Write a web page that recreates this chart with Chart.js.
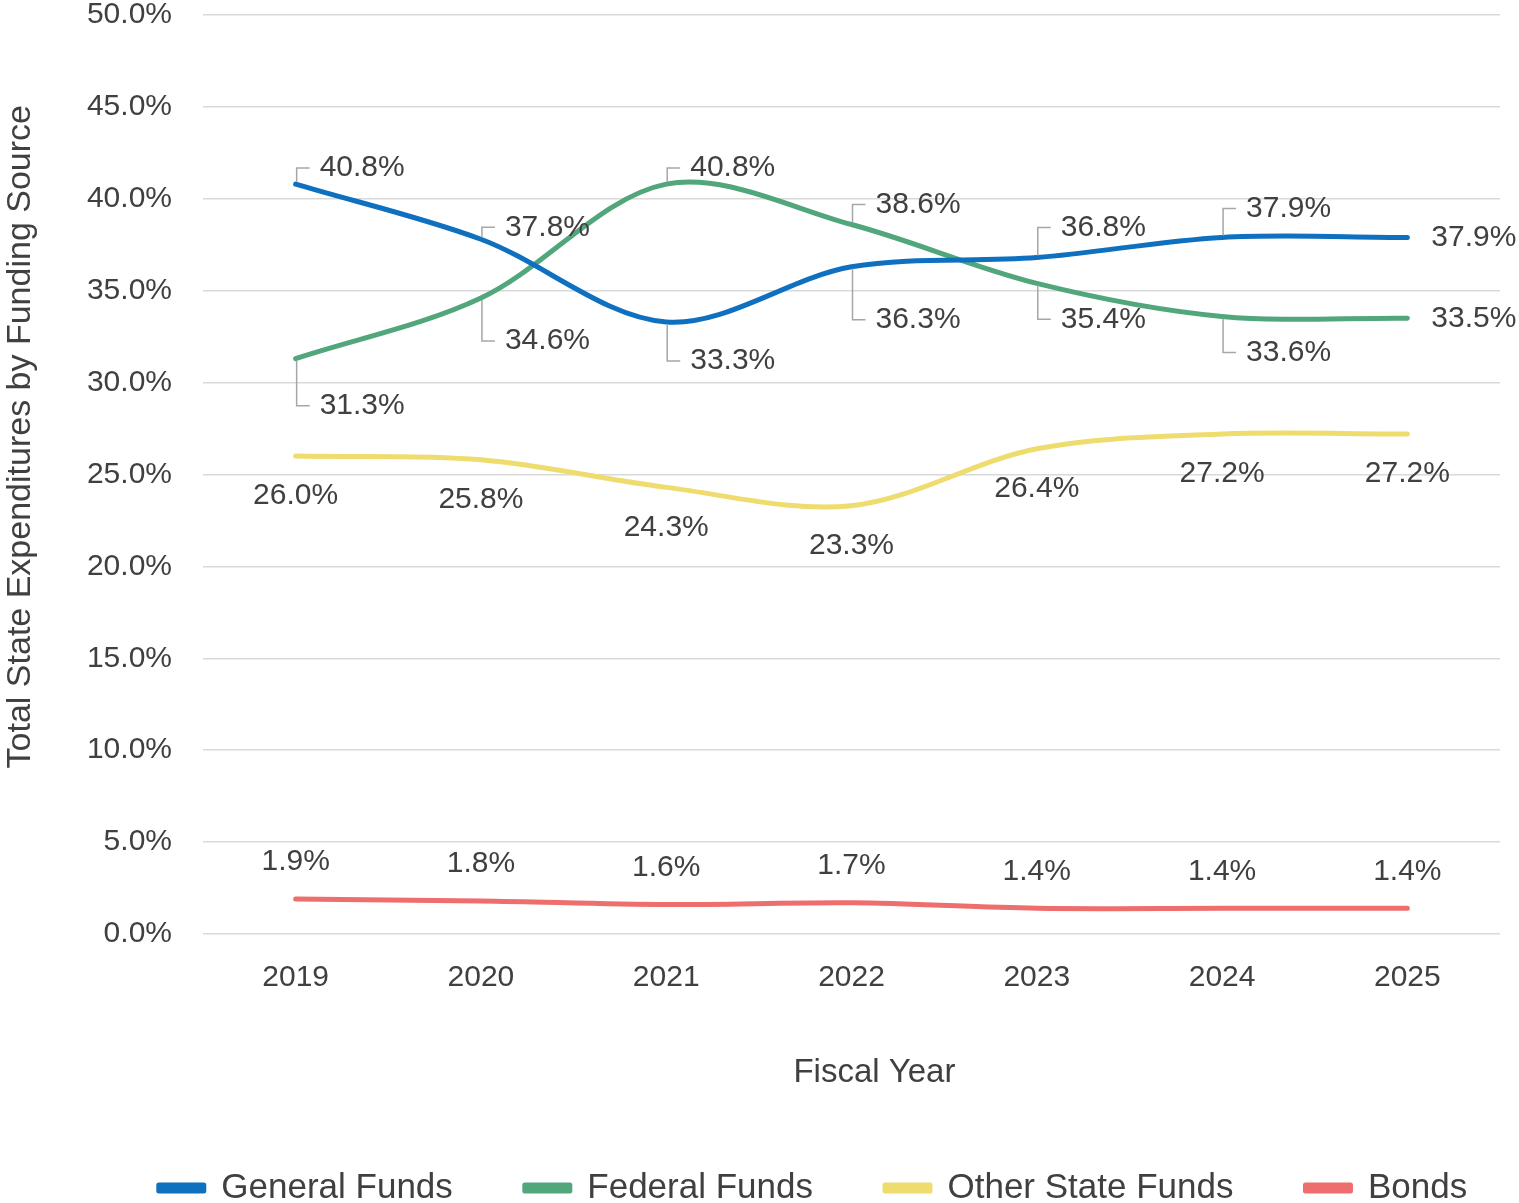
<!DOCTYPE html>
<html>
<head>
<meta charset="utf-8">
<script src="https://cdn.jsdelivr.net/npm/chart.js@4.4.0/dist/chart.umd.min.js"></script>
<style>
  html, body { margin: 0; padding: 0; background: #fff; }
  #wrap { width: 1519px; height: 1203px; }
</style>
</head>
<body>
<div id="wrap"><canvas id="grafico"></canvas></div>
<script>
// Años fiscales y porcentajes por fuente de fondos
const years = ['2019', '2020', '2021', '2022', '2023', '2024', '2025'];
const generalFunds = [40.8, 37.8, 33.3, 36.3, 36.8, 37.9, 37.9];
const federalFunds = [31.3, 34.6, 40.8, 38.6, 35.4, 33.6, 33.5];
const otherStateFunds = [26.0, 25.8, 24.3, 23.3, 26.4, 27.2, 27.2];
const bonds = [1.9, 1.8, 1.6, 1.7, 1.4, 1.4, 1.4];

// desplazamiento vertical de etiquetas con linea guia (px)
const generalLabelDy = [-16, -12, 39, 53, -30, -29, 0];
const federalLabelDy = [47, 43, -16, -20, 36, 36, 0];

const FONT = "'Liberation Sans', Arial, sans-serif";
const TEXT = '#404040';

// Etiquetas de datos (estilo Excel)
const etiquetas = {
    id: 'etiquetas',
    afterLayout(chart) {
        // centrar la leyenda como en el original
        chart.legend.left += 63;
        chart.legend.right += 63;
    },
    afterDatasetsDraw(chart) {
        const ctx = chart.ctx;
        ctx.save();
        ctx.font = '30px ' + FONT;
        ctx.fillStyle = TEXT;
        chart.data.datasets.forEach((ds, di) => {
            const meta = chart.getDatasetMeta(di);
            meta.data.forEach((pt, i) => {
                const txt = ds.data[i].toFixed(1) + '%';
                const x = pt.x, y = pt.y;
                if (ds.labelMode === 'leader') {
                    const dy = ds.labelDy[i];
                    if (dy !== 0) {
                        ctx.strokeStyle = '#A6A6A6';
                        ctx.lineWidth = 1.5;
                        ctx.beginPath();
                        ctx.moveTo(x + 1, y + (dy < 0 ? -2 : 2));
                        ctx.lineTo(x + 1, y + dy);
                        ctx.lineTo(x + 14, y + dy);
                        ctx.stroke();
                    }
                    ctx.textAlign = 'left';
                    ctx.textBaseline = 'middle';
                    ctx.fillText(txt, x + 24, y + dy);
                } else {
                    ctx.textAlign = 'center';
                    ctx.textBaseline = 'middle';
                    ctx.fillText(txt, x, y + (ds.labelMode === 'below' ? 40 : -37));
                }
            });
        });
        ctx.restore();
    }
};

function serie(label, data, color, mode, dy) {
    return {
        label: label,
        data: data,
        borderColor: color,
        backgroundColor: color,
        borderWidth: 5,
        borderCapStyle: 'round',
        borderJoinStyle: 'round',
        pointRadius: 0,
        tension: 0.33,
        fill: false,
        labelMode: mode,
        labelDy: dy
    };
}

let chart;
function initGrafico() {
    const ctx = document.getElementById('grafico').getContext('2d');
    chart = new Chart(ctx, {
        type: 'line',
        data: {
            labels: years,
            datasets: [
                serie('General Funds', generalFunds, '#0F70C0', 'leader', generalLabelDy),
                serie('Federal Funds', federalFunds, '#52A67C', 'leader', federalLabelDy),
                serie('Other State Funds', otherStateFunds, '#EEDC6F', 'below', null),
                serie('Bonds', bonds, '#EE6D6D', 'above', null)
            ]
        },
        options: {
            responsive: true,
            maintainAspectRatio: false,
            animation: false,
            layout: { padding: { left: 0, right: 19, top: 0, bottom: -12.5 } },
            plugins: {
                tooltip: { enabled: false },
                legend: {
                    position: 'bottom',
                    labels: {
                        color: TEXT,
                        font: { family: FONT, size: 35 },
                        boxWidth: 45,
                        boxHeight: 6,
                        padding: 72
                    }
                }
            },
            scales: {
                x: {
                    offset: true,
                    grid: { display: false },
                    border: { display: false },
                    ticks: { color: TEXT, font: { family: FONT, size: 30 }, padding: 18 },
                    title: {
                        display: true,
                        text: '     Fiscal Year',
                        color: TEXT,
                        font: { family: FONT, size: 33 },
                        padding: { top: 40, bottom: 5.5 }
                    },
                    afterFit(scale) { scale.height = 164.5; }
                },
                y: {
                    min: 0,
                    max: 50,
                    grid: { color: '#D9D9D9', lineWidth: 1.5, drawTicks: true, tickLength: 31, tickColor: 'transparent' },
                    border: { display: false },
                    ticks: {
                        stepSize: 5,
                        color: TEXT,
                        font: { family: FONT, size: 30, lineHeight: 1 },
                        padding: 0,
                        callback: v => v.toFixed(1) + '%'
                    },
                    title: {
                        display: true,
                        text: '        Total State Expenditures by Funding Source',
                        color: TEXT,
                        font: { family: FONT, size: 34 },
                        padding: { top: 0, bottom: 0 }
                    },
                    afterFit(scale) { scale.width = 203; }
                }
            }
        },
        plugins: [etiquetas]
    });
}

window.onload = function() {
    initGrafico();
};
</script>
</body>
</html>
